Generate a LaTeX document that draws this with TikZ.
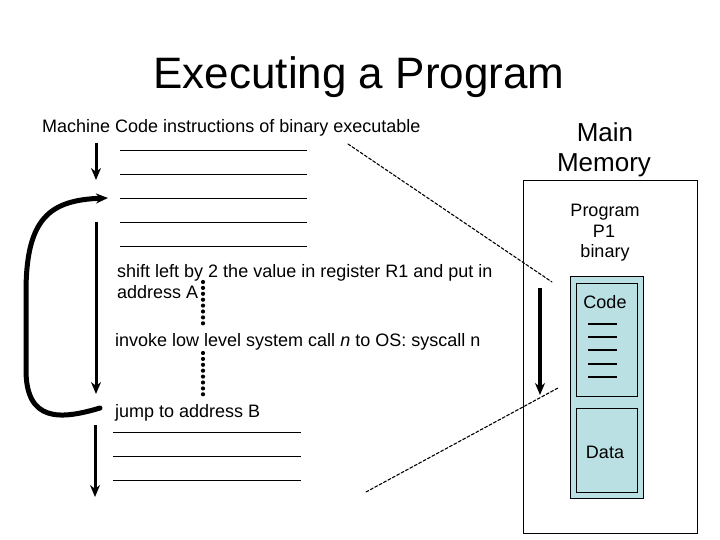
\documentclass[tikz,border=0pt]{standalone}
\usepackage{fontspec}
\setmainfont{Liberation Sans}
\usetikzlibrary{arrows.meta}
\definecolor{memFill}{RGB}{187,224,227}

\begin{document}
\begin{tikzpicture}[x=1pt, y=-1pt, >={Stealth[length=12pt,width=10pt]}, line cap=round,
  txt/.style={inner sep=0pt, font=\fontsize{18}{21}\selectfont},
  rule/.style={line width=0.8pt, line cap=butt},
  flow/.style={->, line width=3pt, line cap=butt},
  leader/.style={line width=1.1pt, dash pattern=on 3pt off 2pt},
  dotcol/.style={line width=4.2pt, dash pattern=on 0pt off 5.9pt}]
\useasboundingbox (0,0) rectangle (720,540);
% ---------- title ----------
\node[anchor=base, inner sep=0pt, font=\fontsize{44}{53}\selectfont] (title) at (359,89) {Executing a Program};
\node[txt, anchor=base west] (mcode) at (42,133) {Machine Code instructions of binary executable};
% ---------- instruction listing ----------
\foreach \y in {150,174,198,222,246}
  \draw[rule] (120,\y) -- (307,\y);
\foreach \y in {432,456,480}
  \draw[rule] (113,\y) -- (301,\y);
\node[txt, anchor=base west] (shift) at (117,277) {shift left by 2 the value in register R1 and put in};
\node[txt, anchor=base west] (addrA) at (117,298) {address A};
\node[txt, anchor=base west] (invoke) at (115,346) {invoke low level system call \textit{n} to OS: syscall n};
\node[txt, anchor=base west] (jump) at (115,417) {jump to address B};
% 省略的指令
\draw[dotcol] (203,282) -- (203,324);
\draw[dotcol] (203,353) -- (203,396);
% ---------- control flow ----------
\draw[flow] (96,143) -- (96,180);
\draw[flow] (96,222) -- (96,394);
\draw[flow] (95,425) -- (95,497);
\draw[->, line width=5pt] (100,408) .. controls (60,420) and (26,422) .. (26,370)
  -- (26,292) .. controls (26,218) and (50,200) .. (108,198);
% ---------- main memory ----------
\node[anchor=base, inner sep=0pt, font=\fontsize{26}{32}\selectfont] (mainM) at (605,142) {Main};
\node[anchor=base, inner sep=0pt, font=\fontsize{26}{32}\selectfont] (memoryM) at (604,172) {Memory};
\draw[line width=0.8pt] (523,180) rectangle (697,533);
\node[txt, anchor=base] (prog) at (605,216) {Program};
\node[txt, anchor=base] (pone) at (604,237) {P1};
\node[txt, anchor=base] (binary) at (605,258) {binary};
\draw[line width=0.8pt, fill=memFill] (570,276) rectangle (643,498);
\draw[line width=0.8pt] (576,283) rectangle (637,396);
\draw[line width=0.8pt] (576,408) rectangle (637,492);
\node[txt, anchor=base] (code) at (605,308) {Code};
\node[txt, anchor=base] (data) at (605,458) {Data};
\foreach \y in {324,337,350,364,377}
  \draw[line width=1.3pt, line cap=butt] (588,\y) -- (617,\y);
\draw[flow, line width=3.5pt] (540,288) -- (540,395);
% 虚线：程序代码映射到内存
\coordinate (listTop) at (348,144);
\coordinate (listBot) at (366,492);
\coordinate (codeTop) at (552,282);
\coordinate (codeBot) at (558,388);
\draw[leader] (listTop) -- (codeTop);
\draw[leader] (listBot) -- (codeBot);
\end{tikzpicture}
\end{document}
